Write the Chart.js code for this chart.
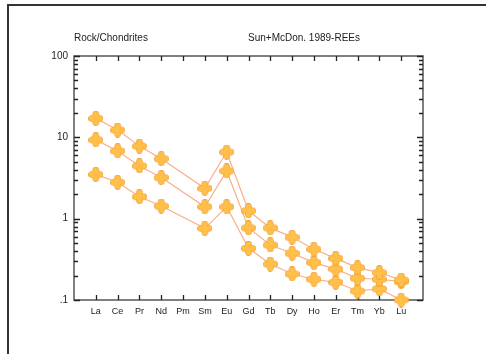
<!DOCTYPE html>
<html>
<head>
<meta charset="utf-8">
<script src="https://cdn.jsdelivr.net/npm/chart.js@4"></script>
<style>
  body { margin: 0; background: #fff; }
  #wrap { position: relative; width: 486px; height: 354px; }
</style>
</head>
<body>
<div id="wrap"><canvas id="ree" width="486" height="354"></canvas></div>
<script>
const elements = ["La", "Ce", "Pr", "Nd", "Pm", "Sm", "Eu", "Gd", "Tb", "Dy", "Ho", "Er", "Tm", "Yb", "Lu"];

// chondrite-normalised values, Pm not analysed
const sampleHigh = [17.1, 12.3, 7.8, 5.45, null, 2.36, 6.6, 1.25, 0.77, 0.59, 0.42, 0.325, 0.25, 0.217, 0.176];
const sampleMid  = [9.3, 6.8, 4.45, 3.2, null, 1.4, 3.86, 0.77, 0.475, 0.375, 0.288, 0.24, 0.185, 0.18, 0.168];
const sampleLow  = [3.5, 2.8, 1.86, 1.43, null, 0.76, 1.4, 0.432, 0.277, 0.209, 0.18, 0.165, 0.129, 0.137, 0.1];

const yLabels = { 0.1: ".1", 1: "1", 10: "10", 100: "100" };

// little rounded plus used as the point marker
const marker = document.createElement("canvas");
marker.width = 15;
marker.height = 15;
(function () {
  const c = marker.getContext("2d");
  const lobes = [[7.5, 3.4], [7.5, 11.6], [3.4, 7.5], [11.6, 7.5]];
  c.strokeStyle = "#f09a2a";
  c.lineWidth = 1.2;
  lobes.forEach(([x, y]) => { c.beginPath(); c.arc(x, y, 2.7, 0, Math.PI * 2); c.stroke(); });
  c.fillStyle = "#ffbf48";
  lobes.forEach(([x, y]) => { c.beginPath(); c.arc(x, y, 2.7, 0, Math.PI * 2); c.fill(); });
  c.fillRect(5, 5, 5, 5);
})();

const toPoints = (vals) => vals.map((v, i) => ({ x: i + 1, y: v }));

const makeSet = (vals) => ({
  data: toPoints(vals),
  borderColor: "#f8b088",
  borderWidth: 1.2,
  pointStyle: marker,
  pointRadius: 7,
  spanGaps: true,
  clip: false,
  tension: 0
});

// outer frame, plot box, inward ticks and the two headings
const frame = {
  id: "frame",
  beforeDatasetsDraw(chart) {
    const ctx = chart.ctx;
    const a = chart.chartArea;
    const xs = chart.scales.x, ys = chart.scales.y;
    ctx.save();
    ctx.fillStyle = "#333";
    ctx.fillRect(7, 4, 2, 350);
    ctx.fillRect(7, 4, 479, 2);

    ctx.strokeStyle = "#555";
    ctx.lineWidth = 1.5;
    ctx.strokeRect(a.left, a.top, a.right - a.left, a.bottom - a.top);

    ctx.strokeStyle = "#222";
    ctx.lineWidth = 1.3;
    ctx.beginPath();
    elements.forEach((_, i) => {
      const px = Math.round(xs.getPixelForValue(i + 1)) + 0.5;
      ctx.moveTo(px, a.bottom); ctx.lineTo(px, a.bottom - 5);
      ctx.moveTo(px, a.top); ctx.lineTo(px, a.top + 5);
    });
    for (let d = 0.1; d < 100; d *= 10) {
      for (let m = 1; m <= 10; m++) {
        const py = Math.round(ys.getPixelForValue(d * m)) + 0.5;
        const len = (m === 1 || m === 10) ? 6 : 4;
        ctx.moveTo(a.left, py); ctx.lineTo(a.left + len, py);
        ctx.moveTo(a.right, py); ctx.lineTo(a.right - len, py);
      }
    }
    ctx.stroke();

    ctx.fillStyle = "#222";
    ctx.font = "10px 'Liberation Sans', Arial, sans-serif";
    ctx.textBaseline = "alphabetic";
    ctx.fillText("Rock/Chondrites", 74, 41);
    ctx.fillText("Sun+McDon. 1989-REEs", 248, 41);
    ctx.restore();
  }
};

new Chart(document.getElementById("ree"), {
  type: "line",
  data: {
    datasets: [makeSet(sampleHigh), makeSet(sampleMid), makeSet(sampleLow)]
  },
  options: {
    responsive: false,
    animation: false,
    layout: { padding: { top: 56, right: 63, left: 0, bottom: 0 } },
    plugins: { legend: { display: false }, tooltip: { enabled: false } },
    scales: {
      x: {
        type: "linear",
        min: 0,
        max: 16,
        afterBuildTicks: (s) => { s.ticks = elements.map((_, i) => ({ value: i + 1 })); },
        afterFit: (s) => { s.height = 54; },
        grid: { display: false, drawTicks: false },
        border: { display: false },
        ticks: {
          autoSkip: false,
          maxRotation: 0,
          padding: 6,
          color: "#222",
          font: { family: "'Liberation Sans', Arial, sans-serif", size: 9 },
          callback: (v) => elements[v - 1] || ""
        }
      },
      y: {
        type: "logarithmic",
        min: 0.1,
        max: 100,
        afterBuildTicks: (s) => { s.ticks = [0.1, 1, 10, 100].map((v) => ({ value: v })); },
        afterFit: (s) => { s.width = 74; },
        grid: { display: false, drawTicks: false },
        border: { display: false },
        ticks: {
          padding: 6,
          color: "#222",
          font: { family: "'Liberation Sans', Arial, sans-serif", size: 10 },
          callback: (v) => yLabels[v] || ""
        }
      }
    }
  },
  plugins: [frame]
});
</script>
</body>
</html>
